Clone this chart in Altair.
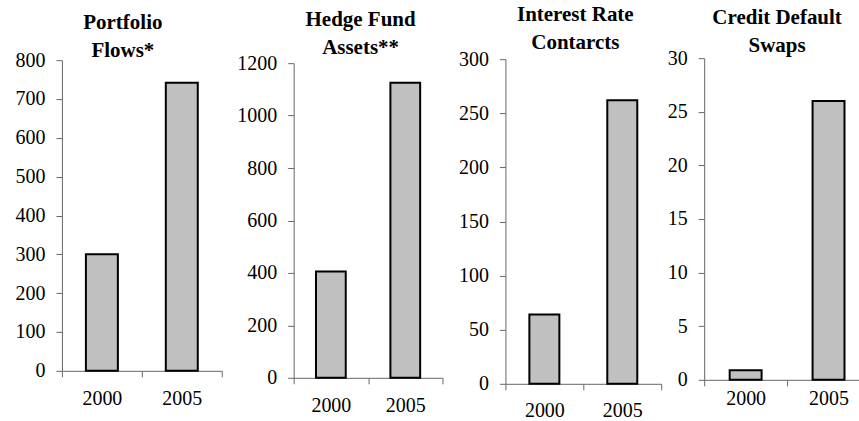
import altair as alt
import pandas as pd

# Categories and values for each of the four panels
years = ["2000", "2005"]
titles = [
    ["Portfolio", "Flows*"],
    ["Hedge Fund", "Assets**"],
    ["Interest Rate", "Contarcts"],
    ["Credit Default", "Swaps"],
]
portfolio_flows = [300, 742]
hedge_fund_assets = [405, 1125]
interest_rate_contracts = [64, 262]
credit_default_swaps = [0.9, 26]

ticks_portfolio = [0, 100, 200, 300, 400, 500, 600, 700, 800]
ticks_hedge = [0, 200, 400, 600, 800, 1000, 1200]
ticks_interest = [0, 50, 100, 150, 200, 250, 300]
ticks_cds = [0, 5, 10, 15, 20, 25, 30]

SERIF = "Liberation Serif"
AXIS_GREY = "#666666"


def panel(values, title, ticks, left, width, height, top, bar_frac,
          title_dx, title_offset, xlab_pad):
    """One bar panel; the y axis sits `left` px inside the panel's own group."""
    df = pd.DataFrame({"year": years, "value": values})
    return (
        alt.Chart(
            df,
            title=alt.TitleParams(
                text=title,
                dx=title_dx,
                offset=title_offset,
                frame="group",
                anchor="middle",
            ),
        )
        .mark_bar(
            fill="#c0c0c0",
            stroke="black",
            strokeWidth=2,
            width=alt.RelativeBandSize(bar_frac),
        )
        .encode(
            x=alt.X(
                "year:N",
                sort=years,
                scale=alt.Scale(paddingInner=0, paddingOuter=0, range=[left, left + width]),
                axis=alt.Axis(
                    title=None,
                    labelAngle=0,
                    tickBand="extent",
                    labelPadding=xlab_pad,
                    labelFont=SERIF,
                    labelFontSize=20,
                    labelColor="black",
                    domainColor=AXIS_GREY,
                    tickColor=AXIS_GREY,
                    tickSize=6,
                ),
            ),
            y=alt.Y(
                "value:Q",
                scale=alt.Scale(domain=[0, ticks[-1]], range=[height, top], nice=False),
                axis=alt.Axis(
                    title=None,
                    values=ticks,
                    format="d",
                    grid=False,
                    offset=-left,
                    labelPadding=11,
                    labelFont=SERIF,
                    labelFontSize=20,
                    labelColor="black",
                    domainColor=AXIS_GREY,
                    tickColor=AXIS_GREY,
                    tickSize=6,
                ),
            ),
        )
        .properties(width=left + width, height=height)
    )


p1 = panel(portfolio_flows, titles[0], ticks_portfolio, 62, 160, 313, 2, 0.4, 12, -11, 12)
p2 = panel(hedge_fund_assets, titles[1], ticks_hedge, 72, 149, 320, 5, 0.4, 28.5, -5, 12)
p3 = panel(interest_rate_contracts, titles[2], ticks_interest, 63, 156, 326, 1, 0.385, 23.5, -4, 11)
p4 = panel(credit_default_swaps, titles[3], ticks_cds, 43, 166, 322, 0, 0.385, 11.5, -8, 3)

# the last panel runs past the right edge of the page, as in the printed figure
chart = (
    alt.hconcat(p1, p2, p3, p4, spacing=0, bounds="flush")
    .resolve_scale(x="independent", y="independent")
    .properties(
        padding={"left": 0, "top": 4, "right": -12, "bottom": 0},
        background="white",
    )
    .configure_view(stroke=None)
    .configure_title(
        font=SERIF,
        fontSize=21,
        fontWeight="bold",
        color="black",
        lineHeight=28,
        baseline="bottom",
    )
)

chart.save("out.html", embed_options={"renderer": "svg", "actions": False})
